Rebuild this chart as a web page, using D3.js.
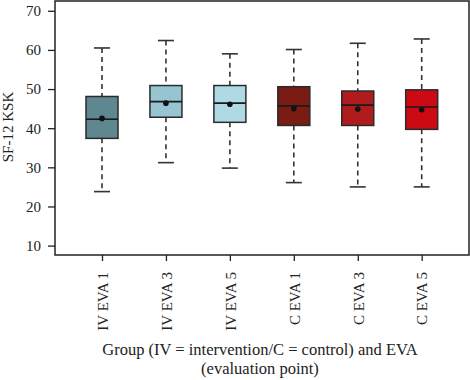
<!DOCTYPE html>
<html><head><meta charset="utf-8">
<script src="https://cdn.jsdelivr.net/npm/d3@7/dist/d3.min.js"></script>
<style>body{margin:0;background:#fff}svg{display:block}</style>
</head><body><svg id="c" width="470" height="380"></svg>
<script>
const categories = ["IV EVA 1","IV EVA 3","IV EVA 5","C EVA 1","C EVA 3","C EVA 5"];
const whiskerLow = [23.8, 31.2, 29.8, 26.1, 25.0, 25.0];
const q1 = [37.4, 42.8, 41.5, 40.7, 40.7, 39.7];
const median = [42.3, 46.8, 46.4, 45.7, 45.9, 45.4];
const q3 = [48.1, 50.9, 50.9, 50.6, 49.5, 49.8];
const whiskerHigh = [60.5, 62.4, 59.0, 60.1, 61.7, 62.8];
const means = [42.5, 46.4, 46.1, 45.0, 44.9, 44.7];
const colors = ["#5f8790","#96c4d0","#b0d9e6","#7a1c14","#b01c1e","#cc0a14"];
const yTicks = [10,20,30,40,50,60,70];

const svg = d3.select("#c");
const L = 55, R = 469, T = 1, B = 255;
const font = "'Liberation Serif', 'DejaVu Serif', serif";
const y = d3.scaleLinear().domain([7.6, 72.5]).range([B, T]);
const x = d3.scalePoint().domain(categories).range([102, 421.7]);
const bw = 32;

const data = categories.map((c,i)=>({c, lo:whiskerLow[i], q1:q1[i], md:median[i], q3:q3[i], hi:whiskerHigh[i], mean:means[i], col:colors[i]}));

const g = svg.append("g");
data.forEach(d=>{
  const cx = x(d.c);
  const gg = g.append("g");
  gg.append("line").attr("x1",cx).attr("x2",cx).attr("y1",y(d.hi)).attr("y2",y(d.q3))
    .attr("stroke","#333").attr("stroke-width",1.6).attr("stroke-dasharray","5,4");
  gg.append("line").attr("x1",cx).attr("x2",cx).attr("y1",y(d.q1)).attr("y2",y(d.lo))
    .attr("stroke","#333").attr("stroke-width",1.6).attr("stroke-dasharray","5,4");
  [d.hi,d.lo].forEach(v=>gg.append("line").attr("x1",cx-8).attr("x2",cx+8).attr("y1",y(v)).attr("y2",y(v))
    .attr("stroke","#333").attr("stroke-width",1.6));
  gg.append("rect").attr("x",cx-bw/2).attr("width",bw).attr("y",y(d.q3)).attr("height",y(d.q1)-y(d.q3))
    .attr("fill",d.col).attr("stroke","#2a2a2a").attr("stroke-width",1.5);
  gg.append("line").attr("x1",cx-bw/2).attr("x2",cx+bw/2).attr("y1",y(d.md)).attr("y2",y(d.md))
    .attr("stroke","#1a1a1a").attr("stroke-width",1.6);
  gg.append("circle").attr("cx",cx).attr("cy",y(d.mean)).attr("r",2.8).attr("fill","#111");
});

// frame
svg.append("rect").attr("x",L).attr("y",T).attr("width",R-L).attr("height",B-T)
  .attr("fill","none").attr("stroke","#222").attr("stroke-width",1.5);

// y axis
const ya = svg.append("g").attr("transform",`translate(${L},0)`)
  .call(d3.axisLeft(y).tickValues(yTicks).tickSize(7).tickPadding(7));
ya.select(".domain").remove();
ya.selectAll("line").attr("stroke","#222").attr("stroke-width",1.3);
ya.selectAll("text").attr("font-family",font).attr("font-size",15).attr("fill","#222");

// x axis
const xa = svg.append("g").attr("transform",`translate(0,${B})`)
  .call(d3.axisBottom(x).tickSize(6).tickPadding(0));
xa.select(".domain").remove();
xa.selectAll("line").attr("stroke","#222").attr("stroke-width",1.3);
xa.selectAll("text").attr("font-family",font).attr("font-size",15).attr("fill","#222")
  .attr("transform","rotate(-90)").attr("text-anchor","end").attr("dy","0.35em")
  .attr("x",-17).attr("y",0);

// y label
svg.append("text").attr("transform","translate(10,127) rotate(-90)")
  .attr("text-anchor","middle").attr("dominant-baseline","middle")
  .attr("font-family",font).attr("font-size",15).attr("fill","#222").text("SF-12 KSK");

// x title
const tt = svg.append("text").attr("text-anchor","middle").attr("font-family",font)
  .attr("font-size",16.5).attr("fill","#222");
tt.append("tspan").attr("x",260).attr("y",355).text("Group (IV = intervention/C = control) and EVA");
tt.append("tspan").attr("x",260).attr("y",374).text("(evaluation point)");
</script></body></html>
